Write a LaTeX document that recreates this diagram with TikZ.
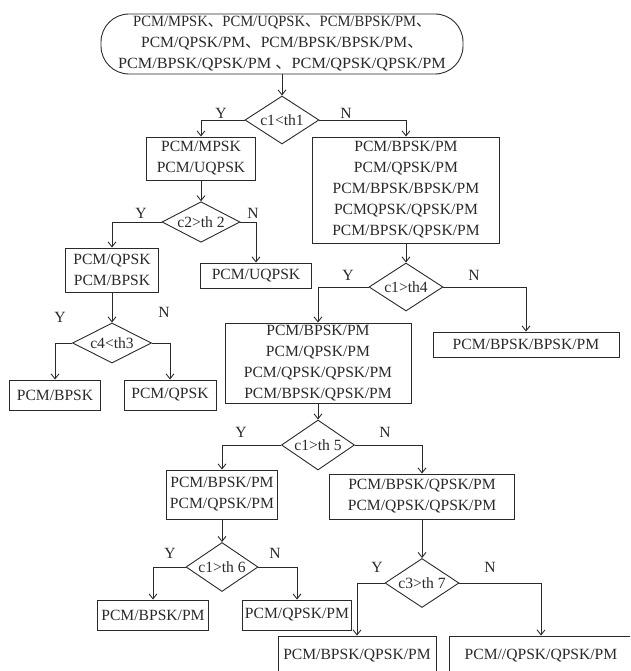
\documentclass[tikz,border=0pt]{standalone}
\usepackage{fontspec}
\setmainfont{Liberation Serif}
\newfontfamily\cjk{Noto Sans CJK SC}
\usetikzlibrary{shapes.geometric,arrows.meta}
\definecolor{ink}{HTML}{2A2A2A}
\begin{document}
\begin{tikzpicture}[x=1pt,y=-1pt,
  every node/.style={font=\fontsize{15.6}{21}\selectfont, text=ink},
  box/.style={draw=ink, line width=0.9pt, rectangle, inner sep=0pt, align=center},
  dia/.style={draw=ink, line width=0.9pt, diamond, aspect=1.6, inner sep=0pt},
  arr/.style={draw=ink, line width=0.9pt, -{Straight Barb[length=5pt,width=8pt]}},
  lbl/.style={inner sep=0pt}]
\fill[white] (0,0) rectangle (630,671);
\useasboundingbox (0,0) rectangle (630,671);
\clip (0,0) rectangle (630,671);

% nodes
\node[box, rounded corners=28pt, minimum width=362pt, minimum height=60pt] (top) at (282,44)
  {\scalebox{0.935}[1]{PCM/MPSK{\cjk 、}PCM/UQPSK{\cjk 、}PCM/BPSK/PM{\cjk 、}}\\PCM/QPSK/PM{\cjk 、}PCM/BPSK/BPSK/PM{\cjk 、}\\\scalebox{1.04}[1]{PCM/BPSK/QPSK/PM {\cjk 、}PCM/QPSK/QPSK/PM}};
\node[dia, minimum width=74pt, minimum height=48pt] (d1) at (282,120) {c1<th1};
\node[box, minimum width=109pt, minimum height=43pt] (b1) at (201,158.5) {PCM/MPSK\\PCM/UQPSK};
\node[box, minimum width=187pt, minimum height=106pt] (b2) at (406,190) {PCM/BPSK/PM\\PCM/QPSK/PM\\PCM/BPSK/BPSK/PM\\PCMQPSK/QPSK/PM\\PCM/BPSK/QPSK/PM};
\node[dia, minimum width=78pt, minimum height=40pt] (d2) at (201,222) {c2>th 2};
\node[box, minimum width=93pt, minimum height=44pt] (b3) at (112,270) {PCM/QPSK\\PCM/BPSK};
\node[box, minimum width=111pt, minimum height=25pt] (b4) at (256,275.5) {PCM/UQPSK};
\node[dia, minimum width=74pt, minimum height=48pt] (d3) at (406,287) {c1>th4};
\node[box, minimum width=186pt, minimum height=80pt] (b5) at (318,363) {PCM/BPSK/PM\\PCM/QPSK/PM\\PCM/QPSK/QPSK/PM\\PCM/BPSK/QPSK/PM};
\node[box, minimum width=186pt, minimum height=25pt] (b6) at (526,344.5) {PCM/BPSK/BPSK/PM};
\node[dia, minimum width=79pt, minimum height=40pt] (d4) at (112,343) {c4<th3};
\node[box, minimum width=91pt, minimum height=30pt] (b7) at (55,395) {PCM/BPSK};
\node[box, minimum width=92pt, minimum height=30pt] (b8) at (170,395) {PCM/QPSK};
\node[dia, minimum width=73pt, minimum height=50pt] (d5) at (318,445) {c1>th 5};
\node[box, minimum width=111pt, minimum height=49pt] (b9) at (222,494.5) {PCM/BPSK/PM\\PCM/QPSK/PM};
\node[box, minimum width=185pt, minimum height=45pt] (b10) at (422,496.5) {PCM/BPSK/QPSK/PM\\PCM/QPSK/QPSK/PM};
\node[dia, minimum width=72pt, minimum height=49pt] (d6) at (222,567) {c1>th 6};
\node[box, minimum width=111pt, minimum height=30pt] (b11) at (153,615) {PCM/BPSK/PM};
\node[box, minimum width=109pt, minimum height=30pt] (b12) at (297,615) {PCM/QPSK/PM};
\node[dia, minimum width=74pt, minimum height=49pt] (d7) at (422,583) {c3>th 7};
\node[box, minimum width=158pt, minimum height=40pt] (b13) at (357,656) {PCM/BPSK/QPSK/PM};
\node[box, minimum width=184pt, minimum height=40pt] (b14) at (541,656) {PCM//QPSK/QPSK/PM};

% labels
\node[lbl] (y1) at (221,113) {Y};
\node[lbl] (n1) at (346,113) {N};
\node[lbl] (y2) at (141,213) {Y};
\node[lbl] (n2) at (253,213) {N};
\node[lbl] (y3) at (348,275) {Y};
\node[lbl] (n3) at (474,275) {N};
\node[lbl] (y4) at (60,317) {Y};
\node[lbl] (n4) at (164,312) {N};
\node[lbl] (y5) at (241,432) {Y};
\node[lbl] (n5) at (385,432) {N};
\node[lbl] (y6) at (170,553) {Y};
\node[lbl] (n6) at (275,553) {N};
\node[lbl] (y7) at (377,567) {Y};
\node[lbl] (n7) at (490,567) {N};

% connectors
\draw[arr] (top.south) -- (d1.north);
\draw[arr] (d1.west) -| (b1.north);
\draw[arr] (d1.east) -| (b2.north);
\draw[arr] (b1.south) -- (d2.north);
\draw[arr] (d2.west) -| (b3.north);
\draw[arr] (d2.east) -| (b4.north);
\draw[arr] (b2.south) -- (d3.north);
\draw[arr] (d3.west) -| (b5.north);
\draw[arr] (d3.east) -| (b6.north);
\draw[arr] (b3.south) -- (d4.north);
\draw[arr] (d4.west) -| (b7.north);
\draw[arr] (d4.east) -| (b8.north);
\draw[arr] (b5.south) -- (d5.north);
\draw[arr] (d5.west) -| (b9.north);
\draw[arr] (d5.east) -| (b10.north);
\draw[arr] (b9.south) -- (d6.north);
\draw[arr] (d6.west) -| (b11.north);
\draw[arr] (d6.east) -| (b12.north);
\draw[arr] (b10.south) -- (d7.north);
\draw[arr] (d7.west) -| (b13.north);
\draw[arr] (d7.east) -| (b14.north);
\end{tikzpicture}
\end{document}
